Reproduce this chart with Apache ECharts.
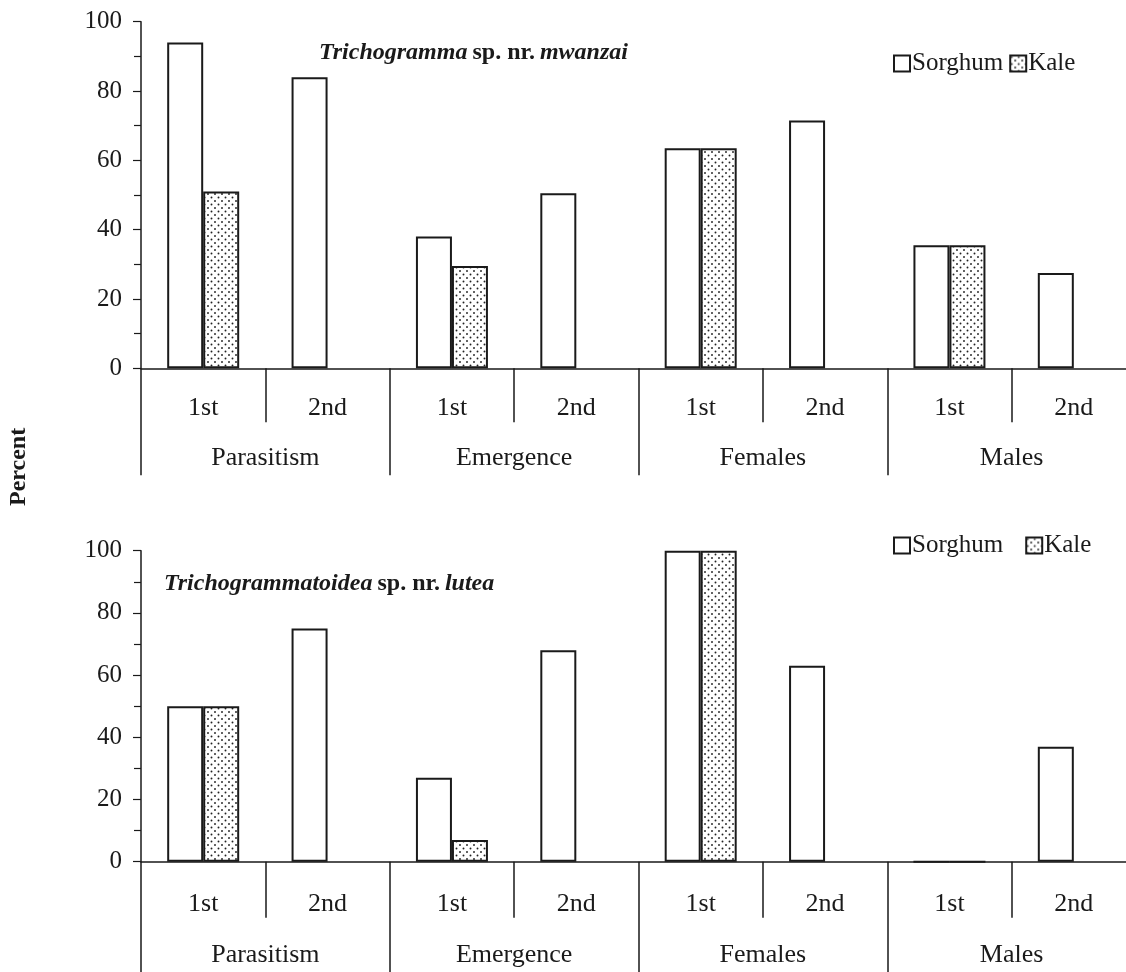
<!DOCTYPE html>
<html>
<head>
<meta charset="utf-8">
<script src="https://cdn.jsdelivr.net/npm/echarts@6/dist/echarts.min.js"></script>
<style>
  html, body { margin: 0; padding: 0; background: #fff; overflow: hidden; }
  /* the axis runs slightly past the right edge of the page */
  #chart { width: 1140px; height: 972px; }
</style>
</head>
<body>
<div id="chart"></div>
<script>
// Generation labels and trait groups shared by both panels
const subLabels = ['1st', '2nd', '1st', '2nd', '1st', '2nd', '1st', '2nd'];
const groupLabels = ['Parasitism', 'Emergence', 'Females', 'Males'];
const yTicks = [0, 20, 40, 60, 80, 100];

// Trichogramma sp. nr. mwanzai (percent)
const mwanzaiSorghum = [94, 84, 38, 50.5, 63.5, 71.5, 35.5, 27.5];
const mwanzaiKale = [51, null, 29.5, null, 63.5, null, 35.5, null];

// Trichogrammatoidea sp. nr. lutea (percent)
const luteaSorghum = [50, 75, 27, 68, 100, 63, 0, 37];
const luteaKale = [50, null, 7, null, 100, null, 0, null];

// Stippled fill for the kale bars
function dotPattern() {
  const c = document.createElement('canvas');
  c.width = 7; c.height = 7;
  const g = c.getContext('2d');
  g.fillStyle = '#ffffff';
  g.fillRect(0, 0, 7, 7);
  g.fillStyle = '#222222';
  g.beginPath(); g.arc(1.5, 1.5, 0.95, 0, Math.PI * 2); g.fill();
  g.beginPath(); g.arc(5, 5, 0.95, 0, Math.PI * 2); g.fill();
  return c;
}
const kaleFill = { image: dotPattern(), repeat: 'repeat' };

const FONT = '"Liberation Serif", "DejaVu Serif", serif';
const INK = '#1a1a1a';
const LABEL_SIZE = 26;

const panels = [
  { top: 21.7, height: 346.6, sorghum: mwanzaiSorghum, kale: mwanzaiKale,
    subTick: 54, groupTick: 107, subMargin: 27, groupMargin: 77 },
  { top: 550.7, height: 311, sorghum: luteaSorghum, kale: luteaKale,
    subTick: 56, groupTick: 120, subMargin: 29, groupMargin: 80 }
];

const grid = [], xAxis = [], yAxis = [], series = [];
panels.forEach((p, i) => {
  grid.push({ left: 141, width: 995, top: p.top, height: p.height });
  xAxis.push({
    type: 'category', gridIndex: i, data: subLabels, position: 'bottom',
    axisLine: { show: true, lineStyle: { color: INK, width: 1.5 } },
    axisTick: { show: true, interval: 0, length: p.subTick, lineStyle: { color: INK, width: 1.5 } },
    axisLabel: { interval: 0, margin: p.subMargin, fontFamily: FONT, fontSize: LABEL_SIZE, color: INK }
  });
  xAxis.push({
    type: 'category', gridIndex: i, data: groupLabels, position: 'bottom',
    axisLine: { show: false },
    axisTick: { show: true, interval: 0, length: p.groupTick, lineStyle: { color: INK, width: 1.5 } },
    axisLabel: { interval: 0, margin: p.groupMargin, fontFamily: FONT, fontSize: LABEL_SIZE, color: INK }
  });
  yAxis.push({
    type: 'value', gridIndex: i, min: yTicks[0], max: yTicks[yTicks.length - 1], interval: 20,
    axisLine: { show: true, lineStyle: { color: INK, width: 1.5 } },
    axisTick: { show: true, length: 8, lineStyle: { color: INK, width: 1.2 } },
    minorTick: { show: true, splitNumber: 2, length: 7, lineStyle: { color: INK, width: 1.2 } },
    splitLine: { show: false },
    axisLabel: { margin: 19, fontFamily: FONT, fontSize: 25, color: INK }
  });
  series.push({
    name: 'Sorghum', type: 'bar', xAxisIndex: i * 2, yAxisIndex: i,
    data: p.sorghum, barWidth: 36, barGap: '0%',
    itemStyle: { color: '#ffffff', borderColor: INK, borderWidth: 2 },
    emphasis: { disabled: true }
  });
  series.push({
    name: 'Kale', type: 'bar', xAxisIndex: i * 2, yAxisIndex: i,
    data: p.kale, barWidth: 36, barGap: '0%',
    itemStyle: { color: kaleFill, borderColor: INK, borderWidth: 2 },
    emphasis: { disabled: true }
  });
});

const titleRich = (name, epithet) => ({
  text: '{i|' + name + '} {b|sp. nr.} {i|' + epithet + '}',
  textStyle: {
    rich: {
      i: { fontFamily: FONT, fontSize: 24, fontStyle: 'italic', fontWeight: 'bold', color: INK },
      b: { fontFamily: FONT, fontSize: 24, fontWeight: 'bold', color: INK }
    }
  }
});

const legendBase = {
  data: ['Sorghum', 'Kale'], icon: 'rect', itemWidth: 16, itemHeight: 16,
  selectedMode: false, textStyle: { fontFamily: FONT, fontSize: 25, color: INK, padding: [0, 0, 0, -3] }
};

const chart = echarts.init(document.getElementById('chart'), null, { renderer: 'canvas' });
chart.setOption({
  backgroundColor: '#ffffff',
  animation: false,
  title: [
    Object.assign({ left: 314, top: 36 }, titleRich('Trichogramma', 'mwanzai')),
    Object.assign({ left: 159, top: 567 }, titleRich('Trichogrammatoidea', 'lutea'))
  ],
  legend: [
    Object.assign({ left: 888, top: 46, itemGap: 6 }, legendBase),
    Object.assign({ left: 888, top: 528, itemGap: 22 }, legendBase)
  ],
  graphic: [{
    type: 'text', x: 7, y: 506, rotation: Math.PI / 2,
    style: { text: 'Percent', fontFamily: FONT, fontSize: 24, fontWeight: 'bold', fill: INK }
  }],
  grid, xAxis, yAxis, series
});
</script>
</body>
</html>
